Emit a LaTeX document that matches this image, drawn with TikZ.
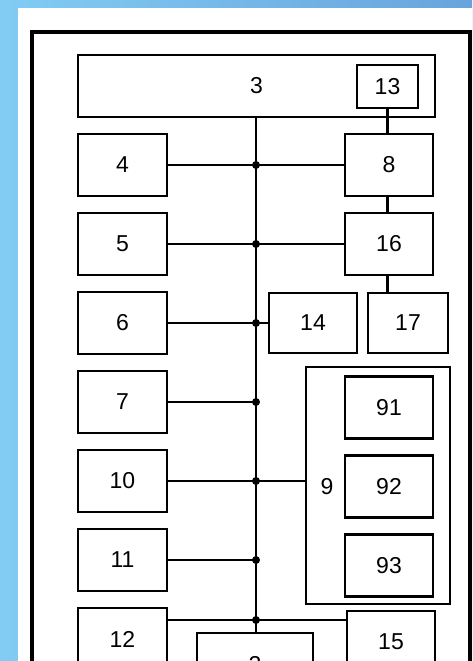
\documentclass[tikz,border=0pt]{standalone}
\usepackage{fontspec}
\setmainfont{Liberation Sans}
\usetikzlibrary{positioning, calc}
\definecolor{skyblue}{RGB}{130,204,244}
\definecolor{deepblue}{RGB}{104,164,220}
\tikzstyle{block} = [rectangle, minimum width=89pt, minimum height=62pt, text centered, draw=black, line width=2.6pt, fill=white, inner sep=0pt, outer sep=0pt, font=\fontsize{23}{27}\selectfont]
\tikzstyle{wire} = [line width=2.2pt]
\tikzstyle{joint} = [circle, fill=black, inner sep=0pt, minimum size=8pt]

\begin{document}
\begin{tikzpicture}[x=1pt, y=-1pt, node distance=79pt]
\useasboundingbox (0,0) rectangle (472,661);
\clip (0,0) rectangle (472,661);

% Background and frame
\shade[left color=skyblue, right color=deepblue] (0,0) rectangle (472,661);
\fill[white] (18,8) rectangle (472,661);
\draw[line width=3.4pt] (32,32) rectangle (470,720);

% Top unit
\node (b3) [block, minimum width=357pt] at (256.5,86) {3};
\node (b13) [block, minimum width=61pt, minimum height=43pt] at (387.5,86.5) {13};

% Left column
\node (b4) [block] at (122.5,165) {4};
\node (b5) [block, below of=b4] {5};
\node (b6) [block, below of=b5] {6};
\node (b7) [block, below of=b6] {7};
\node (b10) [block, below of=b7] {10};
\node (b11) [block, below of=b10] {11};
\node (b12) [block, below of=b11] {12};

% Right column
\node (b8) [block, minimum width=88pt] at (389,165) {8};
\node (b16) [block, minimum width=88pt, below of=b8] {16};
\node (b14) [block, minimum width=88pt, minimum height=60pt] at (313,323) {14};
\node (b17) [block, minimum width=80pt, minimum height=60pt] at (408,323) {17};
\node (b9) [block, minimum width=144pt, minimum height=237pt] at (378,485.5) {};
\node at (327,487) [font=\fontsize{23}{27}\selectfont] {9};
\node (b91) [block, minimum width=88pt] at (389,407.5) {91};
\node (b92) [block, minimum width=88pt, below of=b91] {92};
\node (b93) [block, minimum width=88pt, below of=b92] {93};
\node (b15) [block, minimum width=88pt] at (391,642) {15};
\node (b2) [block, minimum width=116pt] at (255,664) {2};

% Bus and links
\coordinate (bus) at (256,0);
\coordinate (tap) at (0,620);
\draw[wire] (b3.south -| bus) -- (b2.north -| bus);
\draw[wire] (b4.east) -- (b8.west);
\draw[wire] (b5.east) -- (b16.west);
\draw[wire] (b6.east) -- (b14.west);
\draw[wire] (b7.east) -- (b7.east -| bus);
\draw[wire] (b10.east) -- (b10.east -| b9.west);
\draw[wire] (b11.east) -- (b11.east -| bus);
\draw[wire] (b12.east |- tap) -- (b15.west |- tap);
\draw[wire] (b13.south) -- (b13.south |- b8.north);
\draw[wire] (b8.south -| b13.south) -- (b16.north -| b13.south);
\draw[wire] (b16.south -| b13.south) -- (b17.north -| b13.south);

% Junctions
\foreach \row in {b4,b5,b6,b7,b10,b11,tap}
  \node[joint] at (bus |- \row) {};

\end{tikzpicture}
\end{document}
